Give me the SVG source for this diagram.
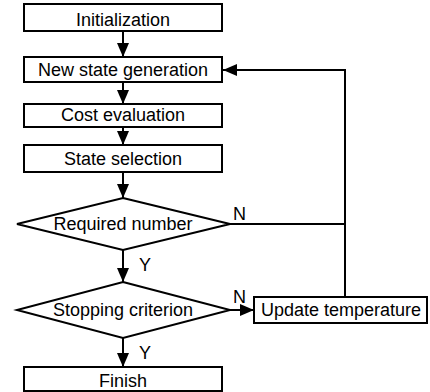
<svg xmlns="http://www.w3.org/2000/svg" width="430" height="392" viewBox="0 0 430 392">
<style>
.box{fill:#fff;stroke:#000;stroke-width:2}
.t{font-family:"Liberation Sans",Arial,sans-serif;font-size:18px;fill:#000}
.c{text-anchor:middle}
.ln{fill:none;stroke:#000;stroke-width:2}
</style>
<defs>
<marker id="ah" markerUnits="userSpaceOnUse" markerWidth="14" markerHeight="12" refX="14" refY="6" orient="auto">
<path d="M0,0 L14,6 L0,12 Z" fill="#000"/>
</marker>
</defs>
<rect width="430" height="392" fill="#fff"/>
<g id="connectors">
<line class="ln" x1="123" y1="31" x2="123" y2="57" marker-end="url(#ah)"/>
<line class="ln" x1="123" y1="82" x2="123" y2="104" marker-end="url(#ah)"/>
<line class="ln" x1="123" y1="127" x2="123" y2="145" marker-end="url(#ah)"/>
<line class="ln" x1="123" y1="172" x2="123" y2="198" marker-end="url(#ah)"/>
<line class="ln" x1="123" y1="250" x2="123" y2="282" marker-end="url(#ah)"/>
<line class="ln" x1="123" y1="338" x2="123" y2="367" marker-end="url(#ah)"/>
<line class="ln" x1="230" y1="310" x2="254" y2="310" marker-end="url(#ah)"/>
<polyline class="ln" points="230,224 345,224"/>
<polyline class="ln" points="345,297 345,70 223,70" marker-end="url(#ah)"/>
<text class="t" x="139" y="271">Y</text>
<text class="t" x="139" y="359">Y</text>
<text class="t" x="233" y="220">N</text>
<text class="t" x="233" y="303">N</text>
</g>
<g id="init"><rect class="box" x="24" y="4" width="198" height="27"/><text class="t c" x="123" y="26">Initialization</text></g>
<g id="newstate"><rect class="box" x="24" y="57" width="198" height="25"/><text class="t c" x="123" y="76">New state generation</text></g>
<g id="cost"><rect class="box" x="24" y="104" width="198" height="23"/><text class="t c" x="123" y="121">Cost evaluation</text></g>
<g id="select"><rect class="box" x="24" y="145" width="198" height="27"/><text class="t c" x="123" y="165">State selection</text></g>
<g id="required"><polygon class="box" points="123,198 230,224 123,250 17,224"/><text class="t c" x="123" y="230">Required number</text></g>
<g id="stopping"><polygon class="box" points="123,282 230,310 123,338 17,310"/><text class="t c" x="123" y="316">Stopping criterion</text></g>
<g id="update"><rect class="box" x="254" y="297" width="173" height="26"/><text class="t c" x="341" y="316">Update temperature</text></g>
<g id="finish"><rect class="box" x="24" y="367" width="198" height="24"/><text class="t c" x="123" y="387">Finish</text></g>
</svg>
